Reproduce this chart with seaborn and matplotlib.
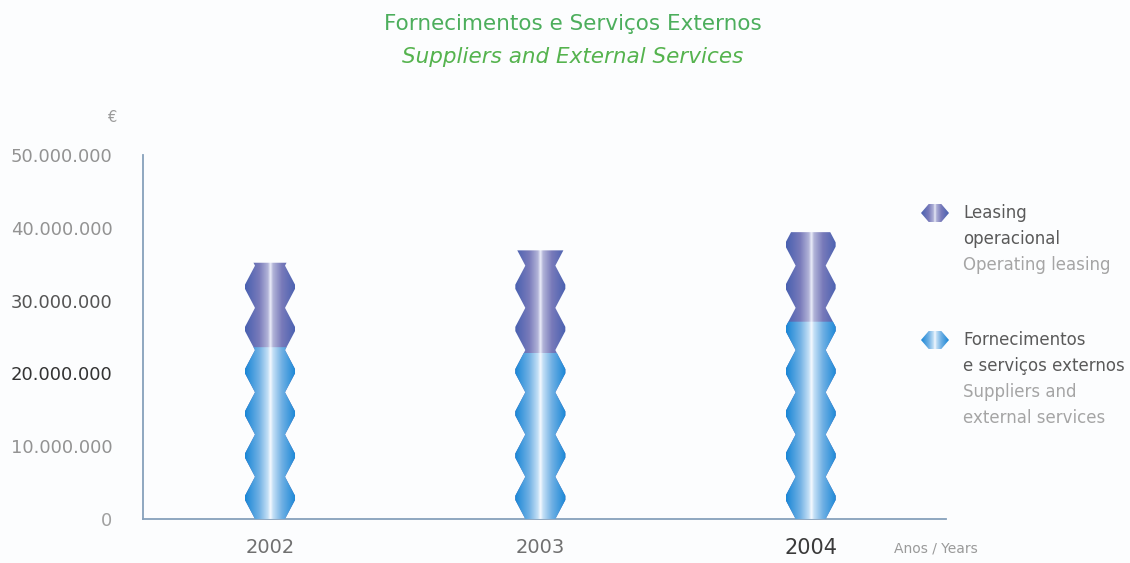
import numpy as np
import pandas as pd
import matplotlib
matplotlib.use("Agg")
import matplotlib.pyplot as plt
import seaborn as sns
from matplotlib.patches import Polygon

# ---- data -------------------------------------------------------------
years = ["2002", "2003", "2004"]
suppliers = [23.6e6, 22.8e6, 27.1e6]          # Fornecimentos e serviços externos
leasing = [11.6e6, 14.1e6, 12.3e6]            # Leasing operacional
y_ticks = [0, 10e6, 20e6, 30e6, 40e6, 50e6]
y_tick_labels = ["0", "10.000.000", "20.000.000", "30.000.000",
                 "40.000.000", "50.000.000"]

title_pt = "Fornecimentos e Serviços Externos"
title_en = "Suppliers and External Services"
legend_leasing_pt = ["Leasing", "operacional"]
legend_leasing_en = ["Operating leasing"]
legend_suppliers_pt = ["Fornecimentos", "e serviços externos"]
legend_suppliers_en = ["Suppliers and", "external services"]
x_axis_label = "Anos / Years"
currency = "€"

# ---- style ------------------------------------------------------------
sns.set_theme(style="white")
plt.rcParams["font.family"] = ["DejaVu Sans"]

AXIS_COL = "#86a0bb"
BAR_W = 0.185          # width of the bulges, in category units
PINCH = 0.60           # waist width relative to the bulge width
PERIOD = 5.8e6         # height of one bead of the column

# gradient stops (|u| from centre to edge)
STOPS = [0.0, 0.10, 0.45, 1.0]
SUPPLIER_COLS = [(246, 250, 255), (196, 224, 246), (112, 176, 228), (24, 134, 214)]
LEASING_COLS = [(236, 238, 250), (178, 180, 216), (120, 122, 186), (72, 96, 176)]


def ramp(cols, n=256):
    u = np.abs(np.linspace(-1, 1, n))
    c = np.array(cols, dtype=float) / 255.0
    rgb = np.stack([np.interp(u, STOPS, c[:, k]) for k in range(3)], axis=1)
    return rgb[None, :, :]


def half_width(y, hw_max):
    t = (y % PERIOD) / PERIOD
    tri = 1 - np.abs(2 * t - 1)
    s = np.clip(tri / 0.9, 0, 1)
    hw_min = hw_max * PINCH
    return hw_min + (hw_max - hw_min) * s


df = pd.DataFrame({"year": years, "suppliers": suppliers, "leasing": leasing})
df["total"] = df["suppliers"] + df["leasing"]

fig = plt.figure(figsize=(11.3, 5.63), dpi=100)
fig.patch.set_facecolor("#fcfdfe")
ax = fig.add_axes([0.1265, 0.0782, 0.7105, 0.6465])
ax.set_facecolor("none")

# stacked columns: the total first, the lower segment drawn over it
sns.barplot(data=df, x="year", y="total", color="#7a7fc0", width=BAR_W,
            errorbar=None, ax=ax)
n_total = len(ax.patches)
sns.barplot(data=df, x="year", y="suppliers", color="#3f9fe0", width=BAR_W,
            errorbar=None, ax=ax)

# turn every bar into a beaded column with a horizontal gradient
for i, p in enumerate(list(ax.patches)):
    cols = LEASING_COLS if i < n_total else SUPPLIER_COLS
    x0, w = p.get_x(), p.get_width()
    y0, h = p.get_y(), p.get_height()
    cx, hw = x0 + w / 2, w / 2
    ys = np.linspace(y0, y0 + h, 600)
    hws = half_width(ys, hw)
    verts = np.concatenate([np.column_stack([cx - hws, ys]),
                            np.column_stack([cx + hws, ys])[::-1]])
    clip = Polygon(verts, closed=True, facecolor="none", edgecolor="none",
                   transform=ax.transData)
    ax.add_patch(clip)
    im = ax.imshow(ramp(cols), extent=[cx - hw, cx + hw, y0, y0 + h],
                   aspect="auto", interpolation="bilinear",
                   zorder=2 + (i >= n_total))
    im.set_clip_path(clip)
    p.set_visible(False)

# ---- axes -------------------------------------------------------------
ax.set_xlim(-0.47, 2.5)
ax.set_ylim(0, 50e6)
for s in ("top", "right"):
    ax.spines[s].set_visible(False)
for s in ("left", "bottom"):
    ax.spines[s].set_color(AXIS_COL)
    ax.spines[s].set_linewidth(1.3)

ax.set_xlabel("")
ax.set_ylabel("")

ax.set_yticks(y_ticks)
ax.set_yticklabels(y_tick_labels)
ax.set_yticks([0, 50e6], minor=True)
ax.tick_params(axis="y", which="major", length=0, pad=22, labelsize=13,
               labelcolor="#8a8a8a")
ax.tick_params(axis="y", which="minor", length=9, width=1.3, color=AXIS_COL)
for lbl, col in zip(ax.get_yticklabels(),
                    ["#a0a0a0", "#939393", "#333333", "#555555", "#939393", "#939393"]):
    lbl.set_color(col)

ax.set_xticks(range(len(years)))
ax.set_xticklabels(years)
ax.set_xticks([0.5, 1.5, 2.5], minor=True)
ax.tick_params(axis="x", which="major", length=0, pad=14)
ax.tick_params(axis="x", which="minor", length=5, width=0.8, color="#c9d6e3")
for lbl, size, col in zip(ax.get_xticklabels(), [14, 14, 15],
                          ["#707070", "#707070", "#3a3a3a"]):
    lbl.set_fontsize(size)
    lbl.set_color(col)

W, H = fig.get_size_inches() * fig.dpi

def fx(px):
    return px / W

def fy(py):
    return 1 - py / H

fig.text(fx(117), fy(118), currency, ha="right", va="center", fontsize=10.5,
         color="#9a9a9a")
fig.text(fx(936), fy(548), x_axis_label, ha="center", va="center",
         fontsize=10, color="#9a9a9a")

# ---- titles -----------------------------------------------------------
fig.text(fx(573), fy(24), title_pt, ha="center", va="center", fontsize=15.5,
         color="#4cae5c")
fig.text(fx(573), fy(57), title_en, ha="center", va="center", fontsize=15.5,
         style="italic", color="#55b34e")

# ---- legend -----------------------------------------------------------
def legend_icon(cy, cols):
    iax = fig.add_axes([fx(921), fy(cy + 9), fx(28), 18 / H])
    iax.set_axis_off()
    hexagon = Polygon([(-1, 0), (-0.45, 1), (0.45, 1), (1, 0), (0.45, -1),
                       (-0.45, -1)], closed=True, facecolor="none",
                      edgecolor="none", transform=iax.transData)
    iax.add_patch(hexagon)
    im = iax.imshow(ramp(cols), extent=[-1, 1, -1, 1], aspect="auto",
                    interpolation="bilinear")
    im.set_clip_path(hexagon)
    iax.set_xlim(-1, 1)
    iax.set_ylim(-1, 1)


def legend_text(cy, pt_lines, en_lines):
    step = 26
    for k, line in enumerate(pt_lines):
        fig.text(fx(963), fy(cy + k * step), line, ha="left", va="center",
                 fontsize=12, color="#5a5a5a")
    for k, line in enumerate(en_lines):
        fig.text(fx(963), fy(cy + (len(pt_lines) + k) * step), line,
                 ha="left", va="center", fontsize=12, color="#a5a5a5")


legend_icon(213, LEASING_COLS)
legend_text(213, legend_leasing_pt, legend_leasing_en)
legend_icon(340, SUPPLIER_COLS)
legend_text(340, legend_suppliers_pt, legend_suppliers_en)

fig.savefig("out.png", dpi=100, facecolor=fig.get_facecolor())
